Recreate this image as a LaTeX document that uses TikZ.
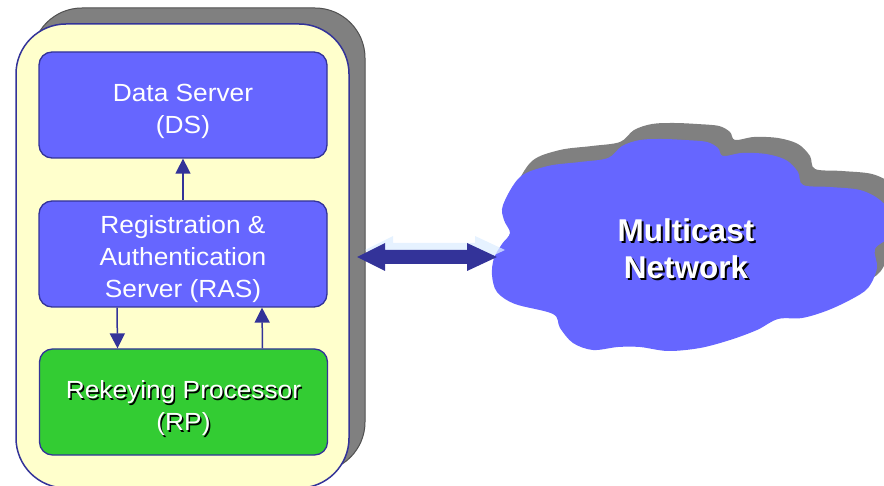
\documentclass[tikz,border=0pt]{standalone}
\usepackage{fontspec}
\setmainfont{Liberation Sans}
\newfontfamily\boxfont{Liberation Sans}[FakeStretch=1.06]
\usetikzlibrary{arrows.meta}

\definecolor{edgeblue}{HTML}{333399}
\definecolor{boxblue}{HTML}{6666FF}
\definecolor{paleyellow}{HTML}{FFFFCC}
\definecolor{procgreen}{HTML}{33CC33}
\definecolor{shadowgray}{HTML}{808080}
\definecolor{shadowedge}{HTML}{505050}
\definecolor{glint}{HTML}{DDEEFF}

% a line of text with a black drop shadow set behind it
\newcommand\dropshade[2]{\rlap{\kern#1\raisebox{-#1}{\textcolor{black}{#2}}}#2}

\tikzset{
  unitbox/.style={draw=edgeblue, line width=1.3pt, rounded corners=13pt,
    minimum width=288pt, minimum height=106pt, inner sep=0pt},
  boxtext/.style={text=white, align=center, inner sep=0pt,
    font=\boxfont\fontsize{24.8}{32}\selectfont},
  flow/.style={draw=edgeblue, line width=1.5pt,
    -{Triangle[length=15pt,width=15pt]}},
  cloudtext/.style={text=white, align=center, inner sep=0pt,
    font=\bfseries\fontsize{31.5}{37}\selectfont},
}

\begin{document}
\begin{tikzpicture}[x=1pt,y=-1pt]
\useasboundingbox (0,0) rectangle (884,486);
\clip (0,0) rectangle (884,486);

% enclosing host with its drop shadow
\draw[fill=shadowgray, draw=shadowedge, line width=1pt, rounded corners=50pt]
  (32,8) rectangle (365,472);
\draw[fill=paleyellow, draw=edgeblue, line width=1.5pt, rounded corners=50pt]
  (16,24) rectangle (349,488);

% server components
\node[unitbox, fill=boxblue] (ds) at (183,105) {};
\node[unitbox, fill=boxblue] (ras) at (183,254) {};
\node[unitbox, fill=procgreen] (rp) at (183.5,402) {};

\node[boxtext] (dslabel) at ([yshift=-6pt]ds.center) {Data Server\\(DS)};
\node[boxtext] (raslabel) at ([yshift=-5pt]ras.center)
  {Registration \&\\Authentication\\Server (RAS)};
\node[boxtext] (rplabel) at ([yshift=-7pt]rp.center)
  {\dropshade{1.5pt}{Rekeying Processor}\\\dropshade{1.5pt}{(RP)}};

% internal message flows
\draw[flow] (ras.north) -- (ds.south);
\draw[flow] ([xshift=-66pt]ras.south) -- ([xshift=-66pt]rp.north);
\draw[flow] ([xshift=79pt]rp.north) -- ([xshift=79pt]ras.south);

% multicast network cloud with its shadow
\def\cloudoutline{plot[smooth cycle, tension=0.55] coordinates {
  (503,205) (520,177) (548,166) (580,162) (608,158) (622,146) (640,140)
  (662,139) (685,140) (707,142) (718,148) (723,156) (742,153) (766,154)
  (786,160) (798,172) (803,185) (830,187) (860,190) (880,200) (892,216)
  (890,236) (875,249) (877,268) (868,288) (850,300) (826,311) (802,318)
  (778,319) (757,330) (730,340) (700,348) (668,351) (640,347) (618,347)
  (593,350) (573,343) (560,328) (553,314) (515,304) (497,292) (492,275)
  (494,258) (502,244) (510,233) (504,220)}}
\fill[shadowgray, shift={(12,-16)}] \cloudoutline;
\fill[boxblue] \cloudoutline;

\node[cloudtext] (net) at (686,249.5)
  {\dropshade{2pt}{Multicast}\\\dropshade{2pt}{Network}};

% bidirectional link between host and network
\fill[glint, fill opacity=0.75]
  (365,250) -- (393,236) -- (393,243) -- (475,243) -- (475,236)
  -- (505,250) -- (475,264) -- (475,257) -- (393,257) -- (393,264) -- cycle;
\fill[edgeblue]
  (357,257) -- (385,243) -- (385,250) -- (467,250) -- (467,243)
  -- (497,257) -- (467,271) -- (467,264) -- (385,264) -- (385,271) -- cycle;
\end{tikzpicture}
\end{document}
